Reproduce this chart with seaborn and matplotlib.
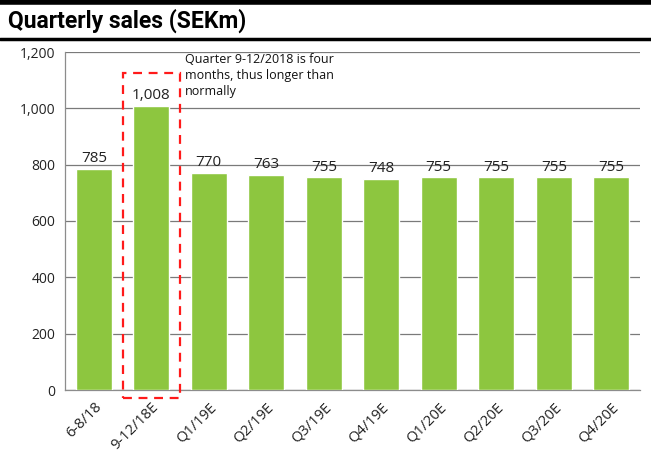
import matplotlib
matplotlib.use('Agg')
import matplotlib.pyplot as plt
import seaborn as sns
import pandas as pd
from matplotlib.patches import Rectangle
from matplotlib.lines import Line2D

quarters = ['6-8/18', '9-12/18E', 'Q1/19E', 'Q2/19E', 'Q3/19E', 'Q4/19E',
            'Q1/20E', 'Q2/20E', 'Q3/20E', 'Q4/20E']
sales = [785, 1008, 770, 763, 755, 748, 755, 755, 755, 755]
note = 'Quarter 9-12/2018 is four\nmonths, thus longer than\nnormally'

df = pd.DataFrame({'quarter': quarters, 'sales': sales})

sns.set_style('white')
plt.rcParams['font.family'] = ['Open Sans', 'DejaVu Sans']

fig = plt.figure(figsize=(6.51, 4.57), dpi=100)
ax = fig.add_axes([65 / 651, 1 - 390 / 457, 575 / 651, 338 / 457])

sns.barplot(data=df, x='quarter', y='sales', color='#8DC63F', width=0.63,
            saturation=1, ax=ax, zorder=3)

ax.set_ylim(0, 1200)
ax.set_xlim(-0.5, len(quarters) - 0.5)
ax.set_yticks(range(0, 1201, 200))
ax.set_yticklabels([f'{v:,}' for v in range(0, 1201, 200)], fontsize=10, color='#222222')
ax.yaxis.grid(True, color='#7a7a7a', lw=0.9, zorder=0)
ax.set_xlabel('')
ax.set_ylabel('')

ax.set_xticks(range(len(quarters)))
ax.set_xticklabels(quarters, rotation=45, ha='right', rotation_mode='anchor',
                   fontsize=10.5, color='#222222')
ax.tick_params(axis='x', length=0, pad=7)
ax.set_xticks([i - 0.5 for i in range(len(quarters) + 1)], minor=True)
ax.tick_params(axis='x', which='minor', length=4, color='#8c8c8c', width=0.9)
ax.tick_params(axis='y', length=4, color='#8c8c8c', width=0.9, pad=3)

for s in ['top', 'right']:
    ax.spines[s].set_visible(False)
for s in ['left', 'bottom']:
    ax.spines[s].set_color('#8c8c8c')
    ax.spines[s].set_linewidth(0.9)

for i, v in enumerate(sales):
    ax.text(i, v + 10, f'{v:,}', ha='center', va='bottom', fontsize=11, color='#222222')

box = Rectangle((0.5, -28), 1.0, 1153, fill=False, edgecolor='#ff1a1a', lw=1.6,
                ls=(0, (4, 3)), clip_on=False, zorder=5)
ax.add_patch(box)
ax.text(1.58, 1195, note, ha='left', va='top', fontsize=9, color='#111111',
        linespacing=1.3)

fig.add_artist(Line2D([0, 1], [1 - 2 / 457, 1 - 2 / 457], color='black', lw=4,
                      transform=fig.transFigure))
fig.add_artist(Line2D([0, 1], [1 - 39 / 457, 1 - 39 / 457], color='black', lw=2.5,
                      transform=fig.transFigure))
fig.text(8 / 651, 1 - 21 / 457, 'Quarterly sales (SEKm)', fontsize=16.5, fontweight='bold',
         va='center', ha='left', family=['Roboto', 'DejaVu Sans'], color='black')

fig.savefig('out.png', dpi=100)
